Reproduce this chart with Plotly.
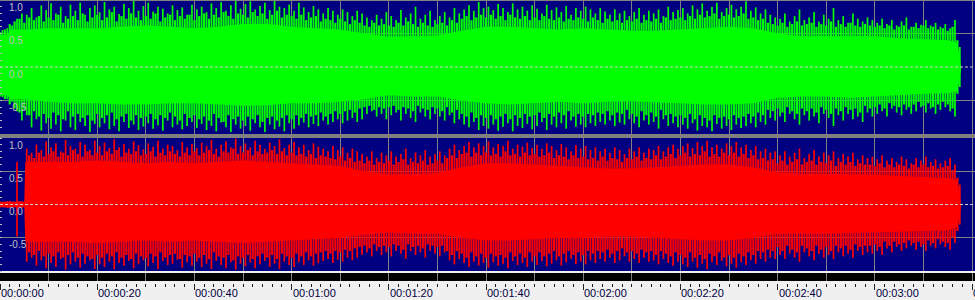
import plotly.graph_objects as go

# ---------------- data ----------------
grid_t = list(range(0, 201, 10))
tick_t = list(range(0, 201, 20))
tick_labels = ["00:00:00", "00:00:20", "00:00:40", "00:01:00", "00:01:20", "00:01:40",
               "00:02:00", "00:02:20", "00:02:40", "00:03:00", "00:03:20"]
y_labels = [1.0, 0.5, 0.0, -0.5]
y_grid = [-0.5, 0.5]
y_minor = [round(-1 + 0.1 * i, 1) for i in range(21)]

# solid body of each channel (upper / lower edge)
top_body_t = [0, 1.6, 2.0] + list(range(5, 196, 5)) + [197, 197.8]
top_body_hi = [0.48, 0.48, 0.56,
               0.56, 0.58, 0.58, 0.58, 0.60, 0.62, 0.60, 0.58, 0.60, 0.64,
               0.64, 0.60, 0.58, 0.56, 0.50, 0.45, 0.46, 0.47, 0.54, 0.60,
               0.60, 0.58, 0.56, 0.58, 0.56, 0.54, 0.54, 0.56, 0.58, 0.60,
               0.58, 0.50, 0.46, 0.46, 0.47, 0.46, 0.43, 0.41, 0.40,
               0.36, 0.02]
top_body_lo = [-0.42, -0.42, -0.48,
               -0.48, -0.52, -0.54, -0.54, -0.56, -0.56, -0.54, -0.54, -0.56, -0.58,
               -0.57, -0.54, -0.54, -0.52, -0.48, -0.42, -0.44, -0.44, -0.50, -0.54,
               -0.56, -0.54, -0.52, -0.54, -0.52, -0.51, -0.52, -0.54, -0.56, -0.56,
               -0.54, -0.46, -0.44, -0.44, -0.46, -0.44, -0.42, -0.40, -0.39,
               -0.36, -0.02]

bot_body_t = [0, 5.0, 5.2] + list(range(10, 196, 5)) + [197, 197.8]
bot_body_hi = [0.04, 0.04, 0.64,
               0.64, 0.64, 0.66, 0.64, 0.62, 0.64, 0.62, 0.64, 0.66, 0.64,
               0.62, 0.60, 0.58, 0.50, 0.45, 0.46, 0.47, 0.56, 0.62, 0.62,
               0.60, 0.58, 0.56, 0.54, 0.54, 0.56, 0.58, 0.60, 0.60, 0.56,
               0.48, 0.46, 0.46, 0.46, 0.45, 0.43, 0.42, 0.40,
               0.36, 0.02]
bot_body_lo = [-0.04, -0.04, -0.56,
               -0.56, -0.56, -0.58, -0.56, -0.54, -0.56, -0.54, -0.56, -0.58, -0.56,
               -0.54, -0.52, -0.50, -0.45, -0.42, -0.44, -0.44, -0.50, -0.54, -0.54,
               -0.52, -0.50, -0.50, -0.48, -0.48, -0.50, -0.52, -0.54, -0.54, -0.50,
               -0.44, -0.44, -0.44, -0.44, -0.42, -0.41, -0.40, -0.39,
               -0.34, -0.02]

# tallest spike of every second (tips), left channel (green), at t = i + 0.5
top_peak_hi = [
    0.55, 0.58, 0.62, 0.72, 0.80, 0.78, 0.88, 0.74, 0.92, 0.85,
    0.95, 0.80, 0.90, 0.76, 0.93, 0.84, 0.96, 0.78, 0.88, 0.92,
    0.82, 0.97, 0.86, 0.90, 0.79, 0.94, 0.88, 0.99, 0.84, 0.91,
    0.96, 0.83, 0.90, 0.87, 0.80, 0.92, 0.85, 0.89, 0.78, 0.93,
    0.86, 0.90, 0.82, 0.95, 0.88, 0.97, 0.84, 0.92, 0.99, 0.87,
    0.94, 0.98, 0.86, 0.91, 0.96, 0.85, 0.99, 0.90, 0.88, 0.93,
    0.84, 0.96, 0.89, 0.82, 0.91, 0.86, 0.80, 0.88, 0.84, 0.78,
    0.86, 0.82, 0.76, 0.84, 0.80, 0.74, 0.70, 0.78, 0.72, 0.82,
    0.76, 0.70, 0.85, 0.74, 0.80, 0.90, 0.72, 0.78, 0.84, 0.70,
    0.76, 0.82, 0.74, 0.88, 0.80, 0.86, 0.92, 0.84, 0.97, 0.88,
    0.90, 0.85, 0.94, 0.88, 0.82, 0.95, 0.86, 0.90, 0.84, 0.92,
    0.87, 0.80, 0.93, 0.85, 0.89, 0.82, 0.91, 0.78, 0.88, 0.84,
    0.90, 0.86, 0.80, 0.88, 0.83, 0.78, 0.86, 0.80, 0.84, 0.76,
    0.82, 0.88, 0.78, 0.84, 0.80, 0.86, 0.76, 0.90, 0.82, 0.85,
    0.88, 0.80, 0.92, 0.86, 0.95, 0.84, 0.90, 0.96, 0.82, 0.88,
    0.93, 0.86, 0.90, 0.98, 0.84, 0.89, 0.80, 0.86, 0.78, 0.74,
    0.72, 0.80, 0.68, 0.76, 0.86, 0.70, 0.74, 0.82, 0.68, 0.78,
    0.72, 0.88, 0.70, 0.76, 0.66, 0.80, 0.72, 0.68, 0.74, 0.70,
    0.66, 0.72, 0.64, 0.70, 0.62, 0.68, 0.74, 0.60, 0.66, 0.63,
    0.70, 0.62, 0.66, 0.60, 0.64, 0.58, 0.70, 0.30]
top_peak_lo = [
    -0.45, -0.48, -0.52, -0.66, -0.80, -0.72, -0.90, -0.78, -0.95, -0.84,
    -0.92, -0.86, -0.96, -0.80, -0.90, -0.94, -0.82, -0.88, -0.97, -0.85,
    -0.90, -0.84, -0.93, -0.88, -0.96, -0.82, -0.91, -0.86, -0.94, -0.89,
    -0.84, -0.92, -0.87, -0.95, -0.80, -0.90, -0.86, -0.93, -0.88, -0.82,
    -0.91, -0.85, -0.94, -0.88, -0.96, -0.83, -0.90, -0.97, -0.86, -0.92,
    -0.88, -0.95, -0.84, -0.90, -0.97, -0.86, -0.93, -0.89, -0.96, -0.84,
    -0.92, -0.87, -0.83, -0.90, -0.85, -0.88, -0.80, -0.86, -0.82, -0.78,
    -0.84, -0.80, -0.76, -0.82, -0.78, -0.70, -0.66, -0.74, -0.70, -0.78,
    -0.72, -0.68, -0.80, -0.70, -0.76, -0.82, -0.68, -0.74, -0.78, -0.70,
    -0.74, -0.80, -0.72, -0.84, -0.78, -0.86, -0.90, -0.82, -0.94, -0.88,
    -0.92, -0.86, -0.95, -0.89, -0.84, -0.96, -0.88, -0.91, -0.85, -0.93,
    -0.88, -0.82, -0.94, -0.86, -0.90, -0.84, -0.92, -0.80, -0.89, -0.86,
    -0.90, -0.84, -0.88, -0.82, -0.86, -0.80, -0.88, -0.83, -0.86, -0.78,
    -0.84, -0.90, -0.80, -0.86, -0.82, -0.92, -0.78, -0.88, -0.84, -0.90,
    -0.86, -0.92, -0.84, -0.95, -0.88, -0.90, -0.96, -0.85, -0.92, -0.88,
    -0.94, -0.86, -0.91, -0.88, -0.84, -0.90, -0.82, -0.86, -0.76, -0.80,
    -0.74, -0.82, -0.70, -0.78, -0.86, -0.72, -0.80, -0.74, -0.84, -0.70,
    -0.76, -0.88, -0.72, -0.80, -0.70, -0.78, -0.74, -0.82, -0.68, -0.74,
    -0.70, -0.66, -0.74, -0.62, -0.68, -0.72, -0.64, -0.70, -0.66, -0.60,
    -0.68, -0.62, -0.70, -0.64, -0.60, -0.66, -0.74, -0.30]

# secondary (shorter) spikes, left channel, at t = i
top_mid_hi = [
    0.52, 0.56, 0.64, 0.68, 0.72, 0.66, 0.74, 0.70, 0.76, 0.68,
    0.74, 0.70, 0.78, 0.66, 0.72, 0.76, 0.70, 0.80, 0.68, 0.74,
    0.78, 0.70, 0.74, 0.82, 0.68, 0.76, 0.72, 0.80, 0.74, 0.70,
    0.76, 0.72, 0.80, 0.68, 0.74, 0.78, 0.70, 0.76, 0.72, 0.78,
    0.70, 0.76, 0.80, 0.72, 0.78, 0.74, 0.82, 0.76, 0.72, 0.80,
    0.78, 0.74, 0.82, 0.76, 0.80, 0.72, 0.78, 0.84, 0.74, 0.78,
    0.76, 0.72, 0.78, 0.70, 0.74, 0.76, 0.68, 0.72, 0.70, 0.66,
    0.72, 0.68, 0.64, 0.70, 0.66, 0.62, 0.60, 0.66, 0.62, 0.64,
    0.62, 0.60, 0.66, 0.62, 0.68, 0.64, 0.60, 0.66, 0.62, 0.60,
    0.64, 0.66, 0.62, 0.70, 0.66, 0.72, 0.76, 0.70, 0.74, 0.78,
    0.74, 0.78, 0.72, 0.76, 0.70, 0.78, 0.74, 0.72, 0.76, 0.70,
    0.74, 0.70, 0.76, 0.72, 0.70, 0.74, 0.68, 0.72, 0.70, 0.74,
    0.72, 0.68, 0.74, 0.70, 0.66, 0.72, 0.68, 0.70, 0.66, 0.70,
    0.68, 0.72, 0.66, 0.70, 0.68, 0.72, 0.66, 0.74, 0.70, 0.72,
    0.74, 0.70, 0.76, 0.72, 0.78, 0.74, 0.76, 0.80, 0.72, 0.76,
    0.78, 0.74, 0.76, 0.80, 0.72, 0.74, 0.70, 0.72, 0.66, 0.64,
    0.62, 0.66, 0.60, 0.64, 0.68, 0.62, 0.64, 0.66, 0.60, 0.64,
    0.62, 0.68, 0.60, 0.64, 0.60, 0.66, 0.62, 0.60, 0.64, 0.62,
    0.60, 0.62, 0.58, 0.62, 0.56, 0.60, 0.62, 0.56, 0.60, 0.58,
    0.62, 0.58, 0.60, 0.56, 0.58, 0.54, 0.60, 0.40]
top_mid_lo = [
    -0.44, -0.48, -0.56, -0.62, -0.68, -0.64, -0.72, -0.66, -0.74, -0.70,
    -0.76, -0.68, -0.72, -0.78, -0.66, -0.74, -0.70, -0.76, -0.72, -0.80,
    -0.70, -0.76, -0.72, -0.68, -0.78, -0.74, -0.70, -0.80, -0.72, -0.76,
    -0.74, -0.70, -0.78, -0.72, -0.76, -0.68, -0.74, -0.80, -0.70, -0.76,
    -0.72, -0.78, -0.74, -0.80, -0.70, -0.76, -0.82, -0.72, -0.78, -0.74,
    -0.80, -0.74, -0.78, -0.72, -0.82, -0.76, -0.74, -0.80, -0.76, -0.72,
    -0.78, -0.72, -0.76, -0.70, -0.74, -0.72, -0.68, -0.74, -0.70, -0.66,
    -0.70, -0.66, -0.64, -0.68, -0.62, -0.60, -0.58, -0.64, -0.60, -0.62,
    -0.60, -0.58, -0.64, -0.60, -0.62, -0.66, -0.58, -0.62, -0.64, -0.60,
    -0.62, -0.66, -0.60, -0.68, -0.64, -0.70, -0.74, -0.68, -0.76, -0.72,
    -0.76, -0.72, -0.78, -0.74, -0.70, -0.78, -0.72, -0.76, -0.70, -0.74,
    -0.72, -0.68, -0.76, -0.70, -0.74, -0.68, -0.72, -0.66, -0.74, -0.70,
    -0.74, -0.70, -0.72, -0.68, -0.70, -0.66, -0.72, -0.68, -0.70, -0.64,
    -0.70, -0.74, -0.66, -0.72, -0.68, -0.74, -0.64, -0.72, -0.70, -0.74,
    -0.72, -0.76, -0.70, -0.78, -0.72, -0.76, -0.80, -0.72, -0.76, -0.74,
    -0.78, -0.72, -0.76, -0.74, -0.70, -0.74, -0.68, -0.72, -0.64, -0.66,
    -0.62, -0.68, -0.60, -0.66, -0.70, -0.62, -0.66, -0.62, -0.68, -0.60,
    -0.64, -0.70, -0.62, -0.66, -0.60, -0.64, -0.62, -0.68, -0.58, -0.62,
    -0.60, -0.56, -0.62, -0.54, -0.58, -0.60, -0.56, -0.60, -0.56, -0.52,
    -0.58, -0.54, -0.60, -0.56, -0.52, -0.56, -0.62, -0.40]

# tallest spike of every second, right channel (red), at t = i + 0.5
bot_peak_hi = [
    0.04, 0.05, 0.04, 0.64, 0.05, 0.84, 0.78, 0.90, 0.82, 0.95,
    0.86, 0.92, 0.80, 0.97, 0.88, 0.84, 0.94, 0.90, 0.82, 0.96,
    0.88, 0.93, 0.85, 0.98, 0.86, 0.91, 0.84, 0.95, 0.89, 0.83,
    0.92, 0.87, 0.96, 0.84, 0.90, 0.88, 0.82, 0.94, 0.86, 0.91,
    0.85, 0.93, 0.88, 0.97, 0.84, 0.90, 0.95, 0.86, 0.99, 0.88,
    0.92, 0.86, 0.96, 0.90, 0.84, 0.93, 0.88, 0.98, 0.85, 0.90,
    0.94, 0.86, 0.90, 0.82, 0.92, 0.87, 0.84, 0.80, 0.88, 0.82,
    0.86, 0.78, 0.84, 0.80, 0.76, 0.72, 0.80, 0.70, 0.78, 0.74,
    0.80, 0.72, 0.76, 0.84, 0.70, 0.78, 0.74, 0.82, 0.72, 0.76,
    0.80, 0.74, 0.84, 0.90, 0.82, 0.88, 0.94, 0.86, 0.92, 0.88,
    0.95, 0.86, 0.91, 0.88, 0.96, 0.84, 0.90, 0.87, 0.93, 0.85,
    0.90, 0.84, 0.92, 0.88, 0.82, 0.91, 0.86, 0.80, 0.89, 0.84,
    0.88, 0.82, 0.86, 0.80, 0.84, 0.78, 0.86, 0.82, 0.76, 0.84,
    0.80, 0.86, 0.78, 0.84, 0.82, 0.88, 0.80, 0.86, 0.90, 0.84,
    0.88, 0.92, 0.85, 0.94, 0.88, 0.96, 0.86, 0.90, 0.84, 0.92,
    0.88, 0.94, 0.86, 0.90, 0.82, 0.88, 0.80, 0.84, 0.78, 0.80,
    0.74, 0.80, 0.72, 0.78, 0.84, 0.70, 0.76, 0.82, 0.72, 0.78,
    0.74, 0.80, 0.70, 0.76, 0.72, 0.78, 0.68, 0.74, 0.70, 0.72,
    0.68, 0.74, 0.66, 0.70, 0.64, 0.72, 0.68, 0.62, 0.70, 0.66,
    0.72, 0.64, 0.68, 0.62, 0.66, 0.70, 0.60, 0.30]
bot_peak_lo = [
    -0.04, -0.05, -0.04, -0.48, -0.05, -0.86, -0.80, -0.92, -0.84, -0.96,
    -0.88, -0.94, -0.82, -0.98, -0.90, -0.86, -0.95, -0.89, -0.84, -0.97,
    -0.90, -0.94, -0.86, -0.97, -0.88, -0.92, -0.85, -0.96, -0.90, -0.84,
    -0.93, -0.88, -0.97, -0.85, -0.91, -0.89, -0.83, -0.95, -0.87, -0.92,
    -0.86, -0.94, -0.89, -0.97, -0.85, -0.91, -0.96, -0.87, -0.98, -0.89,
    -0.93, -0.87, -0.96, -0.90, -0.85, -0.94, -0.89, -0.97, -0.86, -0.91,
    -0.94, -0.87, -0.91, -0.84, -0.92, -0.88, -0.85, -0.82, -0.88, -0.83,
    -0.86, -0.80, -0.84, -0.80, -0.76, -0.72, -0.78, -0.70, -0.76, -0.72,
    -0.78, -0.70, -0.74, -0.82, -0.70, -0.76, -0.72, -0.80, -0.70, -0.74,
    -0.78, -0.72, -0.84, -0.90, -0.82, -0.88, -0.94, -0.86, -0.92, -0.88,
    -0.95, -0.87, -0.92, -0.89, -0.96, -0.85, -0.91, -0.88, -0.94, -0.86,
    -0.91, -0.85, -0.93, -0.89, -0.84, -0.92, -0.87, -0.82, -0.90, -0.86,
    -0.90, -0.84, -0.88, -0.82, -0.86, -0.80, -0.88, -0.84, -0.78, -0.86,
    -0.82, -0.88, -0.80, -0.86, -0.84, -0.90, -0.82, -0.88, -0.92, -0.86,
    -0.90, -0.94, -0.86, -0.95, -0.89, -0.97, -0.87, -0.91, -0.85, -0.93,
    -0.89, -0.95, -0.87, -0.91, -0.84, -0.89, -0.82, -0.86, -0.80, -0.82,
    -0.76, -0.82, -0.74, -0.80, -0.86, -0.72, -0.78, -0.84, -0.74, -0.80,
    -0.76, -0.82, -0.72, -0.78, -0.74, -0.80, -0.70, -0.76, -0.72, -0.74,
    -0.70, -0.76, -0.66, -0.72, -0.64, -0.70, -0.66, -0.62, -0.68, -0.64,
    -0.70, -0.62, -0.66, -0.60, -0.64, -0.68, -0.58, -0.30]

# secondary spikes, right channel, at t = i
bot_mid_hi = [
    0.04, 0.04, 0.05, 0.04, 0.05, 0.04, 0.74, 0.70, 0.78, 0.72,
    0.76, 0.80, 0.72, 0.78, 0.74, 0.82, 0.76, 0.72, 0.80, 0.74,
    0.78, 0.74, 0.80, 0.76, 0.82, 0.72, 0.78, 0.76, 0.80, 0.74,
    0.76, 0.80, 0.72, 0.78, 0.74, 0.80, 0.76, 0.72, 0.78, 0.74,
    0.80, 0.74, 0.78, 0.82, 0.76, 0.72, 0.80, 0.78, 0.84, 0.76,
    0.78, 0.82, 0.74, 0.80, 0.76, 0.78, 0.82, 0.76, 0.80, 0.74,
    0.78, 0.74, 0.76, 0.72, 0.76, 0.70, 0.74, 0.72, 0.70, 0.68,
    0.72, 0.66, 0.70, 0.64, 0.66, 0.62, 0.66, 0.60, 0.64, 0.62,
    0.66, 0.60, 0.64, 0.68, 0.60, 0.64, 0.62, 0.66, 0.60, 0.62,
    0.66, 0.62, 0.70, 0.74, 0.70, 0.76, 0.78, 0.72, 0.78, 0.74,
    0.78, 0.74, 0.76, 0.72, 0.80, 0.74, 0.76, 0.72, 0.78, 0.74,
    0.76, 0.72, 0.74, 0.78, 0.70, 0.74, 0.72, 0.68, 0.74, 0.70,
    0.72, 0.68, 0.70, 0.66, 0.72, 0.66, 0.70, 0.68, 0.64, 0.70,
    0.68, 0.72, 0.66, 0.70, 0.68, 0.74, 0.68, 0.72, 0.76, 0.70,
    0.74, 0.78, 0.72, 0.76, 0.74, 0.80, 0.72, 0.76, 0.72, 0.78,
    0.74, 0.78, 0.72, 0.76, 0.70, 0.74, 0.68, 0.70, 0.66, 0.68,
    0.62, 0.66, 0.60, 0.64, 0.68, 0.60, 0.64, 0.66, 0.60, 0.64,
    0.62, 0.66, 0.58, 0.64, 0.60, 0.64, 0.58, 0.62, 0.60, 0.60,
    0.58, 0.62, 0.56, 0.60, 0.56, 0.60, 0.58, 0.54, 0.60, 0.56,
    0.60, 0.56, 0.58, 0.54, 0.56, 0.58, 0.52, 0.40]
bot_mid_lo = [
    -0.04, -0.04, -0.05, -0.04, -0.05, -0.04, -0.72, -0.76, -0.70, -0.78,
    -0.74, -0.78, -0.72, -0.80, -0.76, -0.72, -0.80, -0.74, -0.78, -0.82,
    -0.76, -0.80, -0.74, -0.78, -0.72, -0.80, -0.76, -0.82, -0.74, -0.78,
    -0.80, -0.74, -0.78, -0.72, -0.80, -0.76, -0.74, -0.82, -0.76, -0.78,
    -0.74, -0.80, -0.76, -0.82, -0.72, -0.78, -0.80, -0.76, -0.84, -0.78,
    -0.80, -0.76, -0.82, -0.78, -0.74, -0.80, -0.76, -0.82, -0.74, -0.78,
    -0.80, -0.74, -0.78, -0.72, -0.78, -0.74, -0.72, -0.70, -0.74, -0.70,
    -0.72, -0.68, -0.70, -0.66, -0.64, -0.62, -0.66, -0.60, -0.64, -0.62,
    -0.64, -0.60, -0.62, -0.68, -0.60, -0.64, -0.62, -0.66, -0.60, -0.62,
    -0.64, -0.62, -0.70, -0.76, -0.70, -0.74, -0.80, -0.72, -0.78, -0.74,
    -0.80, -0.74, -0.78, -0.76, -0.80, -0.72, -0.78, -0.74, -0.80, -0.72,
    -0.78, -0.72, -0.78, -0.74, -0.70, -0.78, -0.74, -0.70, -0.76, -0.72,
    -0.76, -0.70, -0.74, -0.70, -0.72, -0.68, -0.74, -0.70, -0.66, -0.72,
    -0.70, -0.74, -0.68, -0.72, -0.70, -0.76, -0.70, -0.74, -0.78, -0.72,
    -0.76, -0.80, -0.72, -0.80, -0.76, -0.82, -0.74, -0.78, -0.72, -0.80,
    -0.76, -0.80, -0.74, -0.78, -0.72, -0.76, -0.70, -0.72, -0.68, -0.70,
    -0.64, -0.70, -0.62, -0.68, -0.72, -0.62, -0.66, -0.70, -0.62, -0.68,
    -0.64, -0.70, -0.62, -0.66, -0.62, -0.68, -0.60, -0.64, -0.62, -0.62,
    -0.60, -0.64, -0.56, -0.62, -0.56, -0.60, -0.58, -0.54, -0.58, -0.56,
    -0.60, -0.54, -0.58, -0.52, -0.56, -0.58, -0.50, -0.40]

peak_t = [i + 0.5 for i in range(len(top_peak_hi))]
mid_t = [float(i) for i in range(len(top_mid_hi))]

# ---------------- styling ----------------
NAVY = "#000080"
GREEN = "#00ff00"
RED = "#ff0000"
GRID = "#808080"
LABEL = "#c0c0c0"
XMAX = 975 / 4.86
H = 300.0


def body_trace(t, hi, lo, color, xa, ya):
    return go.Scatter(x=list(t) + list(t)[::-1], y=list(hi) + list(lo)[::-1],
                      fill="toself", fillcolor=color, mode="lines",
                      line=dict(width=0, color=color), hoverinfo="skip",
                      xaxis=xa, yaxis=ya)


def spike_trace(t, hi, lo, color, xa, ya, w):
    xs, ys = [], []
    for ti, h, l in zip(t, hi, lo):
        xs += [ti, ti, None]
        ys += [l, h, None]
    return go.Scatter(x=xs, y=ys, mode="lines", line=dict(width=w, color=color),
                      hoverinfo="skip", xaxis=xa, yaxis=ya)


fig = go.Figure()
fig.add_trace(body_trace(top_body_t, top_body_hi, top_body_lo, GREEN, "x", "y"))
fig.add_trace(spike_trace(mid_t, top_mid_hi, top_mid_lo, GREEN, "x", "y", 2.2))
fig.add_trace(spike_trace(peak_t, top_peak_hi, top_peak_lo, GREEN, "x", "y", 1.7))
fig.add_trace(body_trace(bot_body_t, bot_body_hi, bot_body_lo, RED, "x2", "y2"))
fig.add_trace(spike_trace(mid_t, bot_mid_hi, bot_mid_lo, RED, "x2", "y2", 2.2))
fig.add_trace(spike_trace(peak_t, bot_peak_hi, bot_peak_lo, RED, "x2", "y2", 1.7))
# carriers for the ruler axes
for xa in ("x3", "x4"):
    fig.add_trace(go.Scatter(x=[0, XMAX], y=[0.5, 0.5], mode="lines",
                             line=dict(width=1, color="rgba(0,0,0,0)"), hoverinfo="skip",
                             xaxis=xa, yaxis="y3"))

xcommon = dict(range=[0, XMAX], tickvals=grid_t, showgrid=True, gridcolor=GRID, gridwidth=1,
               showticklabels=False, ticks="", zeroline=False, showline=False, fixedrange=True)
ycommon = dict(range=[-1, 1], tickvals=y_grid, showgrid=True, gridcolor=GRID, gridwidth=1,
               showticklabels=False, ticks="", zeroline=False, showline=False, fixedrange=True,
               minor=dict(tickvals=y_minor, ticks="inside", ticklen=2, tickwidth=1,
                          tickcolor=LABEL, showgrid=False))

fig.update_layout(
    width=975, height=300, margin=dict(l=0, r=0, t=0, b=0, pad=0),
    paper_bgcolor="#f0f0f0", plot_bgcolor=NAVY, showlegend=False,
    xaxis=dict(domain=[0, 1], anchor="y", **xcommon),
    xaxis2=dict(domain=[0, 1], anchor="y2", **xcommon),
    xaxis3=dict(domain=[0, 1], anchor="y3", **xcommon),
    xaxis4=dict(overlaying="x3", anchor="free", position=1 - 283 / H, side="bottom",
                range=[0, XMAX], tickvals=tick_t, ticks="outside", ticklen=6, tickwidth=1,
                tickcolor="#202020", showgrid=False, showticklabels=False, zeroline=False,
                showline=False, fixedrange=True,
                minor=dict(tick0=0, dtick=2, ticks="outside", ticklen=3, tickwidth=1,
                           tickcolor="#202020", showgrid=False)),
    yaxis=dict(domain=[1 - 134 / H, 1], anchor="x", **ycommon),
    yaxis2=dict(domain=[1 - 271 / H, 1 - 138 / H], anchor="x2", **ycommon),
    yaxis3=dict(domain=[1 - 281 / H, 1 - 273 / H], anchor="x3", range=[0, 1],
                showgrid=False, showticklabels=False, ticks="", zeroline=False,
                showline=False, fixedrange=True),
)

shapes = [
    dict(type="rect", xref="x3 domain", yref="y3 domain", x0=0, x1=1, y0=0, y1=1,
         fillcolor="#000000", line=dict(width=0), layer="below"),
    dict(type="rect", xref="paper", yref="paper", x0=0, x1=1, y0=1 - 138 / H, y1=1 - 134 / H,
         fillcolor=GRID, line=dict(width=0), layer="above"),
    dict(type="rect", xref="paper", yref="paper", x0=0, x1=1, y0=1 - 1 / H, y1=1,
         fillcolor=GRID, line=dict(width=0), layer="above"),
]
for xr, yr in (("x domain", "y"), ("x2 domain", "y2")):
    shapes.append(dict(type="line", xref=xr, yref=yr, x0=0, x1=1, y0=0, y1=0,
                       line=dict(color="#d0d0d0", width=1, dash="3px,2px"), layer="above"))
fig.update_layout(shapes=shapes)

ann = []
for yr in ("y", "y2"):
    for v in y_labels:
        ann.append(dict(xref="paper", yref=yr, x=0.007, y=v, yshift=-7, xanchor="left",
                        yanchor="middle", text=f"{v:.1f}", showarrow=False,
                        font=dict(family="Liberation Sans", size=10, color=LABEL)))
for t, lab in zip(tick_t, tick_labels):
    ann.append(dict(xref="x3", yref="paper", x=t, y=1 - 293 / H, xanchor="left",
                    yanchor="middle", text=lab, showarrow=False, xshift=-1,
                    font=dict(family="Liberation Sans", size=11, color="#000040")))
fig.update_layout(annotations=ann)

fig.write_html("out.html")
